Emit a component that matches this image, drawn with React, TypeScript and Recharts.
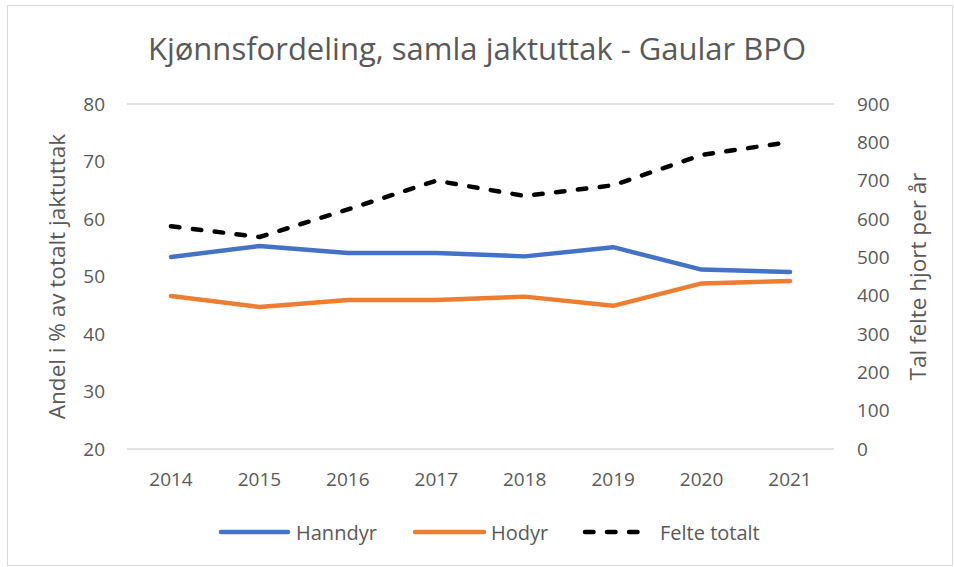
import React from 'react';
import { LineChart, Line, XAxis, YAxis, CartesianGrid, Label } from 'recharts';

const years = ['2014', '2015', '2016', '2017', '2018', '2019', '2020', '2021'];
const hanndyr = [53.4, 55.3, 54.1, 54.1, 53.5, 55.1, 51.2, 50.8];
const hodyr = [46.6, 44.7, 45.9, 45.9, 46.5, 44.9, 48.8, 49.2];
const felteTotalt = [581, 553, 625, 700, 660, 688, 767, 801];
const leftTicks = [20, 30, 40, 50, 60, 70, 80];
const rightTicks = [0, 100, 200, 300, 400, 500, 600, 700, 800, 900];

const data = years.map((y, i) => ({
  year: y,
  Hanndyr: hanndyr[i],
  Hodyr: hodyr[i],
  Felte: felteTotalt[i],
}));

const FONT = '"Open Sans", sans-serif';
const TXT = '#595959';

const legendItems = [
  { name: 'Hanndyr', color: '#4472C4', dash: false, left: 218, lineW: 73, gap: 5 },
  { name: 'Hodyr', color: '#ED7D31', dash: false, left: 412, lineW: 75, gap: 4 },
  { name: 'Felte totalt', color: '#000000', dash: true, left: 582, lineW: 67, gap: 11 },
];

export default function App() {
  return (
    <div style={{ position: 'absolute', left: 0, top: 0, width: 954, height: 567, background: '#fff' }}>
      <div style={{ position: 'absolute', left: 7, top: 5, width: 946, height: 561, border: '1px solid #d9d9d9', boxSizing: 'border-box' }} />
      <div style={{ position: 'absolute', left: 0, top: 26, width: 954, textAlign: 'center', fontFamily: FONT, fontSize: 31, color: TXT, lineHeight: '44px' }}>
        Kjønnsfordeling, samla jaktuttak - Gaular BPO
      </div>
      <div style={{ position: 'absolute', left: 0, top: 0 }}>
        <LineChart width={954} height={567} data={data} margin={{ top: 104, right: 0, bottom: 78, left: 0 }}>
          <CartesianGrid vertical={false} stroke="#d9d9d9" strokeWidth={1.5} />
          <XAxis dataKey="year" axisLine={false} tickLine={false} tickSize={0} tickMargin={24}
            padding={{ left: 44, right: 44 }} interval={0}
            tick={{ fill: TXT, fontSize: 19, fontFamily: FONT }} height={40} />
          <YAxis yAxisId="left" orientation="left" width={127} domain={[20, 80]} ticks={leftTicks}
            axisLine={false} tickLine={false} tickSize={0} tickMargin={22} interval={0}
            tick={{ fill: TXT, fontSize: 19, fontFamily: FONT }}>
            <Label value="Andel i % av totalt jaktuttak" angle={-90} position="insideLeft" offset={0}
              style={{ fill: TXT, fontSize: 22.5, fontFamily: FONT, textAnchor: 'middle' }} dx={57} />
          </YAxis>
          <YAxis yAxisId="right" orientation="right" width={120} domain={[0, 900]} ticks={rightTicks}
            axisLine={false} tickLine={false} tickSize={0} tickMargin={23} interval={0}
            tick={{ fill: TXT, fontSize: 19, fontFamily: FONT, textAnchor: 'start' }}>
            <Label value="Tal felte hjort per år" angle={-90} position="insideRight" offset={0}
              style={{ fill: TXT, fontSize: 22.5, fontFamily: FONT, textAnchor: 'middle' }} dx={-36} />
          </YAxis>
          <Line yAxisId="left" dataKey="Hanndyr" stroke="#4472C4" strokeWidth={4.5} dot={false}
            strokeLinecap="round" strokeLinejoin="round" isAnimationActive={false} />
          <Line yAxisId="left" dataKey="Hodyr" stroke="#ED7D31" strokeWidth={4.5} dot={false}
            strokeLinecap="round" strokeLinejoin="round" isAnimationActive={false} />
          <Line yAxisId="right" dataKey="Felte" name="Felte totalt" stroke="#000000" strokeWidth={4.5} dot={false}
            strokeDasharray="8.5 13.5" strokeLinecap="round" strokeLinejoin="round" isAnimationActive={false} />
        </LineChart>
      </div>
      {legendItems.map((it) => (
        <div key={it.name} style={{ position: 'absolute', left: it.left, top: 518, height: 28, display: 'flex', alignItems: 'center', fontFamily: FONT, fontSize: 20, color: TXT }}>
          <svg width={it.lineW} height={10} style={{ marginRight: it.gap }}>
            <line x1={3} y1={5} x2={it.lineW - 3} y2={5} stroke={it.color} strokeWidth={4.5} strokeLinecap="round"
              strokeDasharray={it.dash ? '8.5 13.5' : undefined} />
          </svg>
          <span>{it.name}</span>
        </div>
      ))}
    </div>
  );
}
